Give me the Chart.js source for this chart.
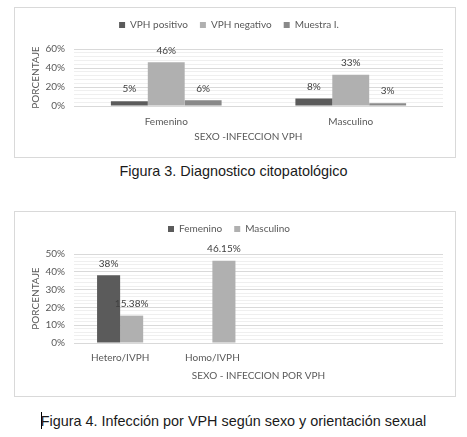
<!DOCTYPE html>
<html>
<head>
<meta charset="utf-8">
<script src="https://cdn.jsdelivr.net/npm/chart.js@4.4.0/dist/chart.umd.min.js"></script>
<style>
    body { margin: 0; width: 467px; height: 437px; background: #fff; position: relative; overflow: hidden; }
    .box { position: absolute; left: 14px; width: 442px; border: 1px solid #d9d9d9; box-sizing: border-box; }
    .box canvas { display: block; }
    .cap { position: absolute; left: 0; width: 467px; text-align: center; font-family: "Liberation Sans", Arial, sans-serif; font-size: 14.4px; line-height: 16px; color: #1a1a1a; }
    .caret { position: absolute; left: 41px; top: 412px; width: 1px; height: 17px; background: #000; }
</style>
</head>
<body>
<div class="box" style="top:7px; height:151px;"><canvas id="DiagChart" width="440" height="149"></canvas></div>
<div class="cap" style="top:163px;">Figura 3. Diagnostico citopatológico</div>

<div class="box" style="top:211px; height:186px;"><canvas id="SexoChart" width="440" height="184"></canvas></div>
<div class="caret"></div>
<div class="cap" style="top:413px;">Figura 4. Infección por VPH según sexo y orientación sexual</div>

<script>
// Figura 3
const sexo = ['Femenino', 'Masculino'];
const vphPositivo = [5, 8];
const vphNegativo = [46, 33];
const muestraI = [6, 3];

// Figura 4
const orientacion = ['Hetero/IVPH', 'Homo/IVPH', '', ''];
const femenino = [38, 0, null, null];
const masculino = [15.38, 46.15, null, null];

Chart.defaults.font.family = 'Lato, sans-serif';
Chart.defaults.font.size = 10;
Chart.defaults.color = '#595959';

// value labels above each bar
const valueLabels = {
    id: 'valueLabels',
    afterDatasetsDraw(chart) {
        const ctx = chart.ctx;
        ctx.save();
        ctx.font = '10px Lato';
        ctx.fillStyle = '#404040';
        ctx.textAlign = 'center';
        ctx.textBaseline = 'middle';
        chart.data.datasets.forEach((ds, i) => {
            chart.getDatasetMeta(i).data.forEach((bar, j) => {
                const v = ds.data[j];
                if (v === null || v === 0) return;
                ctx.fillText(v + '%', bar.x, bar.y - 12);
            });
        });
        ctx.restore();
    }
};

// keep the legend a fixed height so the plot starts where it should
const legendHeight = {
    id: 'legendHeight',
    beforeLayout(chart, args, opts) {
        const legend = chart.legend;
        if (!legend || legend._fixed) return;
        const fit = legend.fit;
        legend.fit = function () {
            fit.call(this);
            this.height = opts.height;
        };
        legend._fixed = true;
    }
};

function barOptions(cfg) {
    return {
        responsive: false,
        animation: false,
        layout: { padding: { top: 0, right: 12, bottom: 0, left: 0 } },
        plugins: {
            legend: {
                position: 'top',
                labels: { boxWidth: 6, boxHeight: 6, padding: 12, color: '#595959', font: { size: 10 } }
            },
            tooltip: { enabled: false },
            legendHeight: { height: cfg.legendHeight }
        },
        scales: {
            x: {
                grid: { display: false, drawTicks: false },
                border: { display: false },
                ticks: { padding: cfg.xPad, color: '#595959' },
                title: { display: true, text: cfg.xTitle, color: '#595959', padding: { top: 0, bottom: cfg.xTitlePad } },
                afterFit: s => { s.height = cfg.xHeight; }
            },
            y: {
                min: 0,
                max: cfg.max,
                border: { display: false },
                grid: {
                    drawTicks: false,
                    color: c => c.tick.value % cfg.major === 0 ? '#d9d9d9' : '#efefef'
                },
                ticks: {
                    stepSize: cfg.step,
                    autoSkip: false,
                    padding: 9,
                    color: '#595959',
                    callback: v => v % cfg.major === 0 ? v + '%' : ''
                },
                title: { display: true, text: 'PORCENTAJE', color: '#595959', padding: { top: 15, bottom: 0 } },
                afterFit: s => { s.width = 59; }
            }
        }
    };
}

const diag = document.getElementById('DiagChart').getContext('2d');
const diagChart = new Chart(diag, {
    type: 'bar',
    data: {
        labels: sexo,
        datasets: [{
            label: 'VPH positivo',
            data: vphPositivo,
            backgroundColor: '#5b5b5b'
        },
        {
            label: 'VPH negativo',
            data: vphNegativo,
            backgroundColor: '#b0b0b0'
        },
        {
            label: 'Muestra I.',
            data: muestraI,
            backgroundColor: '#898989'
        }
        ].map(d => Object.assign(d, { categoryPercentage: 0.6, barPercentage: 1 }))
    },
    options: barOptions({
        legendHeight: 41, max: 60, step: 4, major: 20,
        xTitle: 'SEXO -INFECCION VPH\u00a0\u00a0\u00a0\u00a0\u00a0\u00a0\u00a0\u00a0',
        xHeight: 51, xPad: 10, xTitlePad: 14
    }),
    plugins: [valueLabels, legendHeight]
});

const sexoCtx = document.getElementById('SexoChart').getContext('2d');
const sexoChart = new Chart(sexoCtx, {
    type: 'bar',
    data: {
        labels: orientacion,
        datasets: [{
            label: 'Femenino',
            data: femenino,
            backgroundColor: '#5b5b5b'
        },
        {
            label: 'Masculino',
            data: masculino,
            backgroundColor: '#b0b0b0'
        }
        ].map(d => Object.assign(d, { categoryPercentage: 0.5, barPercentage: 1 }))
    },
    options: barOptions({
        legendHeight: 42, max: 50, step: 2, major: 10,
        xTitle: 'SEXO - INFECCION POR VPH',
        xHeight: 53, xPad: 9, xTitlePad: 14
    }),
    plugins: [valueLabels, legendHeight]
});
</script>
</body>
</html>
